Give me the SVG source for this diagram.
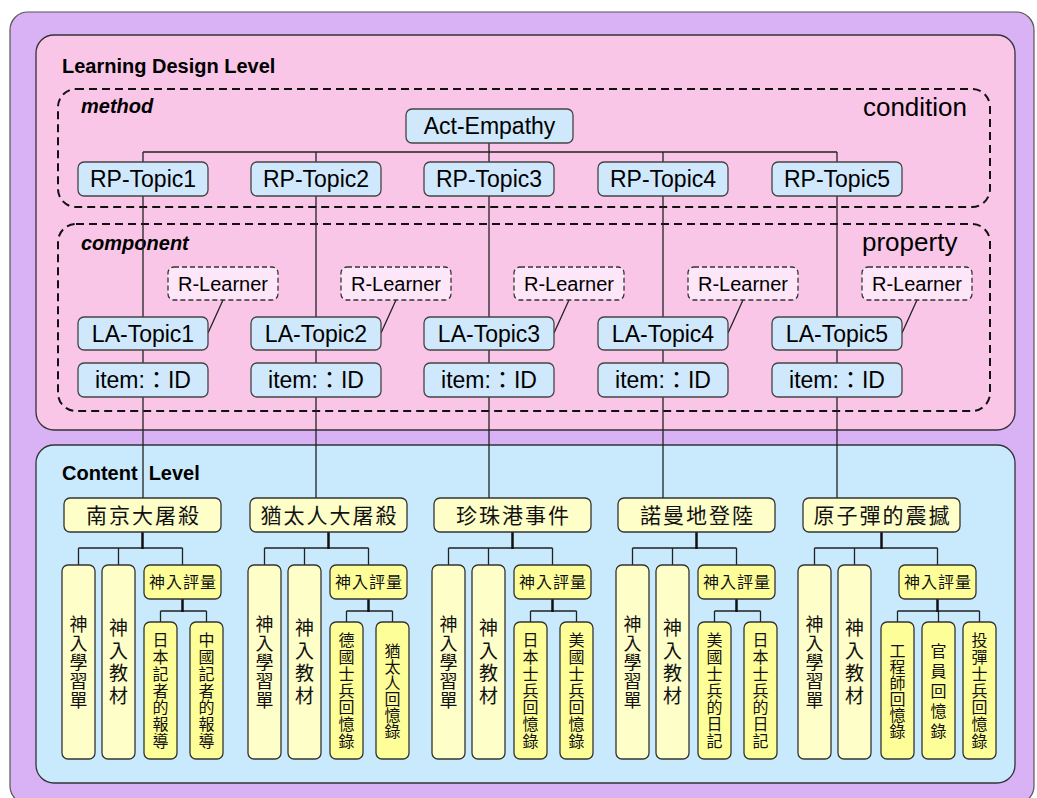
<svg xmlns="http://www.w3.org/2000/svg" width="1037" height="798" viewBox="0 0 1037 798">
<style>
.lat{font-family:"Liberation Sans",Arial,sans-serif;fill:#000}
.bl{font-family:"Liberation Sans",Arial,sans-serif;font-weight:bold;font-size:20px;fill:#000}
.bi{font-family:"Liberation Sans",Arial,sans-serif;font-weight:bold;font-style:italic;font-size:20px;fill:#000}
.big{font-family:"Liberation Sans",Arial,sans-serif;font-size:26px;fill:#000}
.nb{fill:#d0e8fb;stroke:#444;stroke-width:1.3}
.rl{fill:#fde6f8;stroke:#333;stroke-width:1.3;stroke-dasharray:5 3}
.nt{font-family:"Liberation Sans","Noto Sans CJK TC",Arial,sans-serif;font-size:23px;text-anchor:middle;fill:#000}
.rt{font-family:"Liberation Sans",Arial,sans-serif;font-size:20px;text-anchor:middle;fill:#000}
.yl{fill:#fefec8;stroke:#333;stroke-width:1.3}
.yd{fill:#fefe98;stroke:#333;stroke-width:1.3}
.cj{font-family:"Noto Sans CJK TC","Noto Sans CJK SC",sans-serif;fill:#111;text-anchor:middle}
.top{font-size:21px;letter-spacing:2px}
.pg{font-size:16px;letter-spacing:1px}
.v18{font-size:18px}
.v19{font-size:19px}
.v16{font-size:16px}
.ln{stroke:#222;stroke-width:1.3;fill:none}
.stem{stroke:#111;stroke-width:2.5;fill:none}
.dash{fill:none;stroke:#111;stroke-width:2;stroke-dasharray:8 5}
</style>
<rect x="10" y="12" width="1024" height="792" rx="18" fill="#d9b2f5" stroke="#555" stroke-width="1.2"/>
<rect x="36" y="35" width="979" height="395" rx="18" fill="#f9c6e8" stroke="#333" stroke-width="1.3"/>
<rect x="36" y="445" width="979" height="338" rx="18" fill="#c9eafd" stroke="#333" stroke-width="1.3"/>
<text class="bl" x="62" y="73">Learning Design Level</text>
<text class="bl" x="62" y="480" xml:space="preserve">Content  Level</text>
<g id="method"><rect class="dash" x="58" y="89" width="932" height="118" rx="18"/><text class="bi" x="81" y="113">method</text><text class="big" x="967" y="116" text-anchor="end">condition</text></g>
<g id="component"><rect class="dash" x="58" y="224" width="932" height="187" rx="18"/><text class="bi" x="81" y="250">component</text><text class="big" x="862" y="251">property</text></g>
<g id="connectors">
<path class="ln" d="M489,143V152M143,152H837M143,152V498M316,152V498M489,152V498M663,152V498M837,152V498"/>
<path class="ln" d="M223,300L208,333M396,300L381,333M569,300L554,333M743,300L728,333M917,300L902,333"/>
<path class="ln" d="M78.5,548H182.5M78.5,548V565M118.5,548V565M182.5,548V565M160.5,611H206.5M160.5,611V622M206.5,611V622"/>
<path class="stem" d="M142.5,532V549M182.5,599V612"/>
<path class="ln" d="M264.5,548H368.5M264.5,548V565M304.5,548V565M368.5,548V565M346.5,611H392.5M346.5,611V622M392.5,611V622"/>
<path class="stem" d="M328.5,532V549M368.5,599V612"/>
<path class="ln" d="M448.5,548H552.5M448.5,548V565M488.5,548V565M552.5,548V565M530.5,611H576.5M530.5,611V622M576.5,611V622"/>
<path class="stem" d="M512.5,532V549M552.5,599V612"/>
<path class="ln" d="M632.5,548H736.5M632.5,548V565M672.5,548V565M736.5,548V565M714.5,611H760.5M714.5,611V622M760.5,611V622"/>
<path class="stem" d="M696.5,532V549M736.5,599V612"/>
<path class="ln" d="M814.5,548H937.5M814.5,548V565M854.5,548V565M937.5,548V565M897.5,611H979.5M897.5,611V622M938.5,611V622M979.5,611V622"/>
<path class="stem" d="M881.5,532V549M937.5,599V612"/>
</g>
<g id="act-empathy"><rect class="nb" x="406" y="109" width="167" height="34" rx="6"/><text class="nt" x="489.5" y="134">Act-Empathy</text></g>
<g id="rp-topic1"><rect class="nb" x="78" y="162" width="130" height="34" rx="6"/><text class="nt" x="143" y="187">RP-Topic1</text></g>
<g id="rp-topic2"><rect class="nb" x="251" y="162" width="130" height="34" rx="6"/><text class="nt" x="316" y="187">RP-Topic2</text></g>
<g id="rp-topic3"><rect class="nb" x="424" y="162" width="130" height="34" rx="6"/><text class="nt" x="489" y="187">RP-Topic3</text></g>
<g id="rp-topic4"><rect class="nb" x="598" y="162" width="130" height="34" rx="6"/><text class="nt" x="663" y="187">RP-Topic4</text></g>
<g id="rp-topic5"><rect class="nb" x="772" y="162" width="130" height="34" rx="6"/><text class="nt" x="837" y="187">RP-Topic5</text></g>
<g id="r-learner1"><rect class="rl" x="168" y="267" width="110" height="33" rx="6"/><text class="rt" x="223" y="291">R-Learner</text></g>
<g id="r-learner2"><rect class="rl" x="341" y="267" width="110" height="33" rx="6"/><text class="rt" x="396" y="291">R-Learner</text></g>
<g id="r-learner3"><rect class="rl" x="514" y="267" width="110" height="33" rx="6"/><text class="rt" x="569" y="291">R-Learner</text></g>
<g id="r-learner4"><rect class="rl" x="688" y="267" width="110" height="33" rx="6"/><text class="rt" x="743" y="291">R-Learner</text></g>
<g id="r-learner5"><rect class="rl" x="862" y="267" width="110" height="33" rx="6"/><text class="rt" x="917" y="291">R-Learner</text></g>
<g id="la-topic1"><rect class="nb" x="78" y="317" width="130" height="33" rx="6"/><text class="nt" x="143" y="342">LA-Topic1</text></g>
<g id="la-topic2"><rect class="nb" x="251" y="317" width="130" height="33" rx="6"/><text class="nt" x="316" y="342">LA-Topic2</text></g>
<g id="la-topic3"><rect class="nb" x="424" y="317" width="130" height="33" rx="6"/><text class="nt" x="489" y="342">LA-Topic3</text></g>
<g id="la-topic4"><rect class="nb" x="598" y="317" width="130" height="33" rx="6"/><text class="nt" x="663" y="342">LA-Topic4</text></g>
<g id="la-topic5"><rect class="nb" x="772" y="317" width="130" height="33" rx="6"/><text class="nt" x="837" y="342">LA-Topic5</text></g>
<g id="item1"><rect class="nb" x="78" y="363" width="130" height="34" rx="6"/><text class="nt" x="143" y="388">item:：ID</text></g>
<g id="item2"><rect class="nb" x="251" y="363" width="130" height="34" rx="6"/><text class="nt" x="316" y="388">item:：ID</text></g>
<g id="item3"><rect class="nb" x="424" y="363" width="130" height="34" rx="6"/><text class="nt" x="489" y="388">item:：ID</text></g>
<g id="item4"><rect class="nb" x="598" y="363" width="130" height="34" rx="6"/><text class="nt" x="663" y="388">item:：ID</text></g>
<g id="item5"><rect class="nb" x="772" y="363" width="130" height="34" rx="6"/><text class="nt" x="837" y="388">item:：ID</text></g>

<g id="nanjing"><rect class="yl" x="64" y="498" width="157" height="34" rx="6"/><text class="cj top" x="143.5" y="523">南京大屠殺</text></g>
<g id="n-sheet"><rect class="yl" x="62" y="565" width="33" height="194" rx="6"/><text class="cj v18" x="78.5 78.5 78.5 78.5 78.5" y="631 650 669 688 707">神入學習單</text></g>
<g id="n-mat"><rect class="yl" x="102" y="565" width="33" height="194" rx="6"/><text class="cj v19" x="118.5 118.5 118.5 118.5" y="635 658 680 703">神入教材</text></g>
<g id="n-eval"><rect class="yd" x="144" y="565" width="77" height="34" rx="6"/><text class="cj pg" x="183" y="588">神入評量</text></g>
<g id="n-e1"><rect class="yd" x="144" y="622" width="33" height="137" rx="6"/><text class="cj v16" x="160.5 160.5 160.5 160.5 160.5 160.5 160.5" y="646 663 680 697 713 730 747">日本記者的報導</text></g>
<g id="n-e2"><rect class="yd" x="190" y="622" width="33" height="137" rx="6"/><text class="cj v16" x="206.5 206.5 206.5 206.5 206.5 206.5 206.5" y="646 663 680 697 713 730 747">中國記者的報導</text></g>

<g id="holocaust"><rect class="yl" x="250" y="498" width="157" height="34" rx="6"/><text class="cj top" x="329.5" y="523">猶太人大屠殺</text></g>
<g id="h-sheet"><rect class="yl" x="248" y="565" width="33" height="194" rx="6"/><text class="cj v18" x="264.5 264.5 264.5 264.5 264.5" y="631 650 669 688 707">神入學習單</text></g>
<g id="h-mat"><rect class="yl" x="288" y="565" width="33" height="194" rx="6"/><text class="cj v19" x="304.5 304.5 304.5 304.5" y="635 658 680 703">神入教材</text></g>
<g id="h-eval"><rect class="yd" x="330" y="565" width="77" height="34" rx="6"/><text class="cj pg" x="369" y="588">神入評量</text></g>
<g id="h-e1"><rect class="yd" x="330" y="622" width="33" height="137" rx="6"/><text class="cj v16" x="346.5 346.5 346.5 346.5 346.5 346.5 346.5" y="646 663 680 697 713 730 747">德國士兵回憶錄</text></g>
<g id="h-e2"><rect class="yd" x="376" y="622" width="33" height="137" rx="6"/><text class="cj v16" x="392.5 392.5 392.5 392.5 392.5 392.5" y="656.5 672.5 688.5 704.5 720.5 736.5">猶太人回憶錄</text></g>

<g id="pearl"><rect class="yl" x="434" y="498" width="157" height="34" rx="6"/><text class="cj top" x="513.5" y="523">珍珠港事件</text></g>
<g id="p-sheet"><rect class="yl" x="432" y="565" width="33" height="194" rx="6"/><text class="cj v18" x="448.5 448.5 448.5 448.5 448.5" y="631 650 669 688 707">神入學習單</text></g>
<g id="p-mat"><rect class="yl" x="472" y="565" width="33" height="194" rx="6"/><text class="cj v19" x="488.5 488.5 488.5 488.5" y="635 658 680 703">神入教材</text></g>
<g id="p-eval"><rect class="yd" x="514" y="565" width="77" height="34" rx="6"/><text class="cj pg" x="553" y="588">神入評量</text></g>
<g id="p-e1"><rect class="yd" x="514" y="622" width="33" height="137" rx="6"/><text class="cj v16" x="530.5 530.5 530.5 530.5 530.5 530.5 530.5" y="646 663 680 697 713 730 747">日本士兵回憶錄</text></g>
<g id="p-e2"><rect class="yd" x="560" y="622" width="33" height="137" rx="6"/><text class="cj v16" x="576.5 576.5 576.5 576.5 576.5 576.5 576.5" y="646 663 680 697 713 730 747">美國士兵回憶錄</text></g>

<g id="normandy"><rect class="yl" x="618" y="498" width="157" height="34" rx="6"/><text class="cj top" x="697.5" y="523">諾曼地登陸</text></g>
<g id="d-sheet"><rect class="yl" x="616" y="565" width="33" height="194" rx="6"/><text class="cj v18" x="632.5 632.5 632.5 632.5 632.5" y="631 650 669 688 707">神入學習單</text></g>
<g id="d-mat"><rect class="yl" x="656" y="565" width="33" height="194" rx="6"/><text class="cj v19" x="672.5 672.5 672.5 672.5" y="635 658 680 703">神入教材</text></g>
<g id="d-eval"><rect class="yd" x="698" y="565" width="77" height="34" rx="6"/><text class="cj pg" x="737" y="588">神入評量</text></g>
<g id="d-e1"><rect class="yd" x="698" y="622" width="33" height="137" rx="6"/><text class="cj v16" x="714.5 714.5 714.5 714.5 714.5 714.5 714.5" y="646 663 680 697 713 730 747">美國士兵的日記</text></g>
<g id="d-e2"><rect class="yd" x="744" y="622" width="33" height="137" rx="6"/><text class="cj v16" x="760.5 760.5 760.5 760.5 760.5 760.5 760.5" y="646 663 680 697 713 730 747">日本士兵的日記</text></g>

<g id="atomic"><rect class="yl" x="803" y="498" width="157" height="34" rx="6"/><text class="cj top" x="882.5" y="523">原子彈的震撼</text></g>
<g id="a-sheet"><rect class="yl" x="798" y="565" width="33" height="194" rx="6"/><text class="cj v18" x="814.5 814.5 814.5 814.5 814.5" y="631 650 669 688 707">神入學習單</text></g>
<g id="a-mat"><rect class="yl" x="838" y="565" width="33" height="194" rx="6"/><text class="cj v19" x="854.5 854.5 854.5 854.5" y="635 658 680 703">神入教材</text></g>
<g id="a-eval"><rect class="yd" x="899" y="565" width="77" height="34" rx="6"/><text class="cj pg" x="938" y="588">神入評量</text></g>
<g id="a-e1"><rect class="yd" x="881" y="622" width="33" height="137" rx="6"/><text class="cj v16" x="897.5 897.5 897.5 897.5 897.5 897.5" y="656.5 672.5 688.5 704.5 720.5 736.5">工程師回憶錄</text></g>
<g id="a-e2"><rect class="yd" x="922" y="622" width="33" height="137" rx="6"/><text class="cj v16" x="938.5 938.5 938.5 938.5 938.5" y="656.5 676.5 696.5 716.5 736.5">官員回憶錄</text></g>
<g id="a-e3"><rect class="yd" x="963" y="622" width="33" height="137" rx="6"/><text class="cj v16" x="979.5 979.5 979.5 979.5 979.5 979.5 979.5" y="646 663 680 697 713 730 747">投彈士兵回憶錄</text></g>
</svg>
